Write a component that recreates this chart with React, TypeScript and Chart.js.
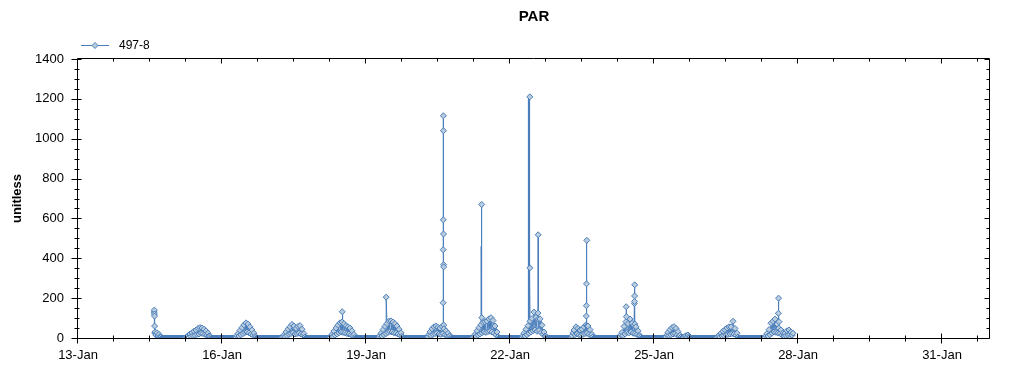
import React, { useEffect, useRef } from 'react';
import { Chart, registerables } from 'chart.js';

Chart.register(...registerables);

const chartTitle = 'PAR';
const seriesLabel = '497-8';
const yAxisTitle = 'unitless';
const monthName = 'Jan';

const xLabelDays = [13, 16, 19, 22, 25, 28, 31];
const xRange = [13, 32];
const xMinorStep = 0.75;
const yRange = [0, 1400];
const yMajorStep = 200;
const yMinorStep = 50;

// half-hourly PAR readings (00:00, 00:30, ... 23:30) for each day, starting on 14-Jan
const firstDay = 14;
const jan14 = [
  null, null, null, null, null, null, null, null, null, null, null, null, null, null, null, null,
  null, null, null, null, null, null, null, null, null, null, null, null, null,
  30, 14, 26, 10, 18, 6, 4, 0, 0, 0, 0, 0, 0, 0, 0, 0, 0, 0, 0,
];
const jan15 = [
  0, 0, 0, 0, 0, 0, 0, 0, 0, 0, 0, 0,
  3, 6, 12, 5, 20, 8, 26, 12, 34, 14, 40, 18, 48, 20, 52, 24, 50, 22, 44, 18, 36, 14, 24, 10, 8, 3,
  0, 0, 0, 0, 0, 0, 0, 0, 0, 0,
];
const jan16 = [
  0, 0, 0, 0, 0, 0, 0, 0, 0, 0, 0, 0, 0, 0,
  4, 12, 22, 10, 38, 16, 52, 22, 66, 28, 76, 30, 70, 26, 56, 20, 40, 14, 24, 8, 3,
  0, 0, 0, 0, 0, 0, 0, 0, 0, 0, 0, 0, 0,
];
const jan17 = [
  0, 0, 0, 0, 0, 0, 0, 0, 0, 0, 0, 0,
  3, 8, 16, 6, 30, 12, 44, 18, 56, 22, 68, 26, 60, 20, 48, 22, 58, 24, 62, 20, 44, 14, 22, 5,
  0, 0, 0, 0, 0, 0, 0, 0, 0, 0, 0, 0,
];
const jan18 = [
  0, 0, 0, 0, 0, 0, 0, 0, 0, 0, 0, 0,
  4, 10, 18, 8, 34, 14, 50, 20, 64, 26, 76, 30, 80, 28, 72, 26, 62, 22, 56, 20, 50, 16, 36, 12, 18, 3,
  0, 0, 0, 0, 0, 0, 0, 0, 0, 0,
];
const jan19 = [
  0, 0, 0, 0, 0, 0, 0, 0, 0, 0, 0, 0, 0,
  4, 12, 24, 10, 42, 16, 58, 22, 72, 28, 84, 32, 86, 30, 80, 26, 72, 24, 60, 20, 44, 14, 26, 8, 3,
  0, 0, 0, 0, 0, 0, 0, 0, 0, 0,
];
const jan20 = [
  0, 0, 0, 0, 0, 0, 0, 0, 0, 0, 0, 0, 0, 0,
  6, 18, 30, 12, 46, 18, 56, 22, 60, 24, 54, 20, 50, 18, 58, 22, 46, 16, 36, 12, 24, 8, 12, 4,
  0, 0, 0, 0, 0, 0, 0, 0, 0, 0,
];
const jan21 = [
  0, 0, 0, 0, 0, 0, 0, 0, 0, 0, 0,
  3, 8, 18, 8, 36, 14, 52, 20, 66, 26, 78, 30, 82, 28, 86, 32, 96, 34, 102, 30, 88, 24, 60, 16, 30, 6,
  0, 0, 0, 0, 0, 0, 0, 0, 0, 0, 0,
];
const jan22 = [
  0, 0, 0, 0, 0, 0, 0, 0, 0, 0, 0, 0,
  4, 12, 24, 10, 44, 16, 62, 24, 84, 30, 98, 36, 130, 40, 104, 34, 125, 38, 96, 28, 64, 18, 30, 10, 8, 2,
  0, 0, 0, 0, 0, 0, 0, 0, 0, 0,
];
const jan23 = [
  0, 0, 0, 0, 0, 0, 0, 0, 0, 0, 0, 0, 0, 0,
  12, 26, 40, 16, 56, 20, 48, 16, 40, 14, 44, 18, 56, 22, 66, 24, 60, 18, 42, 12, 18, 6,
  0, 0, 0, 0, 0, 0, 0, 0, 0, 0, 0, 0,
];
const jan24 = [
  0, 0, 0, 0, 0, 0, 0, 0, 0, 0, 0, 0, 0, 0,
  6, 16, 28, 12, 58, 20, 82, 28, 72, 26, 95, 30, 74, 24, 62, 22, 56, 18, 36, 12, 12, 4,
  0, 0, 0, 0, 0, 0, 0, 0, 0, 0, 0, 0,
];
const jan25 = [
  0, 0, 0, 0, 0, 0, 0, 0, 0, 0, 0, 0,
  6, 16, 28, 12, 42, 16, 52, 20, 57, 22, 48, 16, 32, 10, 14, 5,
  0, 0, 3, 8, 12, 6, 15, 8, 5, 0,
  0, 0, 0, 0, 0, 0, 0, 0, 0, 0,
];
const jan26 = [
  0, 0, 0, 0, 0, 0, 0, 0, 0, 0, 0, 0, 0, 0, 0,
  3, 8, 14, 6, 24, 10, 34, 12, 42, 16, 50, 18, 56, 20, 56, 22, 84, 20, 48, 14, 24, 5,
  0, 0, 0, 0, 0, 0, 0, 0, 0, 0, 0,
];
const jan27 = [
  0, 0, 0, 0, 0, 0, 0, 0, 0, 0, 0, 0, 0, 0, 0,
  4, 12, 22, 10, 42, 16, 74, 24, 84, 30, 95, 28, 70, 26, 82, 24, 40, 14, 26, 10, 24, 12, 36, 16, 40, 18, 30, 14, 24,
  null, null, null, null,
];

// short bursts sampled within the half hour (with markers)
const burstDays = [14, 14, 14, 14, 14, 14, 18, 19, 20, 20, 20, 20, 20, 20, 20, 20, 20, 21, 21, 22, 22, 22, 22, 23, 23, 23, 23, 23, 24, 24, 24, 24, 24, 24, 24, 27, 27, 27];
const burstHours = [14.1, 14.15, 14.2, 14.25, 14.3, 14.35, 12.1, 10.1, 14.56, 14.6, 14.64, 14.68, 14.72, 14.76, 14.8, 14.84, 14.88, 9.85, 9.9, 9.9, 9.95, 14.1, 14.2, 14.15, 14.2, 14.25, 14.4, 14.45, 10.1, 10.2, 14.2, 14.25, 14.3, 14.35, 14.4, 14.2, 14.3, 14.4];
const burstValues = [130, 140, 120, 110, 60, 25, 132, 205, 177, 443, 593, 1115, 1040, 522, 368, 357, 65, 670, 102, 1210, 352, 518, 95, 110, 162, 272, 490, 60, 157, 107, 173, 183, 211, 267, 70, 124, 200, 49];

// unmarked trace samples inside bursts
const traceDays = [20, 20, 21, 21, 21, 21, 22, 22, 22, 22, 22, 22, 22, 22, 23, 23, 23, 23];
const traceHours = [14.52, 14.54, 9.6, 9.68, 9.76, 9.8, 9.05, 9.15, 9.3, 9.4, 9.55, 9.65, 9.75, 9.85, 14.28, 14.3, 14.33, 14.36];
const traceValues = [430, 60, 460, 60, 455, 100, 1190, 30, 1200, 40, 1180, 30, 1150, 40, 330, 40, 340, 40];

const LINE = 'rgb(74,126,187)';
const FILL = 'rgb(185,204,222)';
const FONT = '"Liberation Sans", Arial, sans-serif';

type Pt = { x: number; y: number; m: boolean };

function buildPoints(): Pt[] {
  const days = [jan14, jan15, jan16, jan17, jan18, jan19, jan20, jan21, jan22, jan23, jan24, jan25, jan26, jan27];
  const pts: Pt[] = [];
  days.forEach((arr, i) => {
    arr.forEach((v, k) => {
      if (v !== null) pts.push({ x: firstDay + i + k / 48, y: v as number, m: true });
    });
  });
  burstDays.forEach((d, i) => pts.push({ x: d + burstHours[i] / 24, y: burstValues[i], m: true }));
  traceDays.forEach((d, i) => pts.push({ x: d + traceHours[i] / 24, y: traceValues[i], m: false }));
  pts.sort((a, b) => a.x - b.x);
  return pts;
}

export default function App() {
  const ref = useRef<HTMLCanvasElement>(null);
  useEffect(() => {
    const canvas = ref.current;
    if (!canvas) return;
    const points = buildPoints();

    const framePlugin = {
      id: 'frameTicks',
      afterDatasetsDraw(chart: any) {
        const { ctx, chartArea: a, scales } = chart;
        const xs = scales.x;
        const ys = scales.y;
        const L = Math.round(a.left) - 0.5;
        const R = Math.round(a.right) - 0.5;
        const T = Math.round(a.top) - 0.5;
        const B = Math.round(a.bottom) + 0.5;
        ctx.save();
        ctx.strokeStyle = '#000';
        ctx.lineWidth = 1;
        ctx.beginPath();
        ctx.rect(L, T, R - L, B - T);
        for (let k = 0; ; k++) {
          const v = xRange[0] + k * xMinorStep;
          if (v > xRange[1] + 1e-9) break;
          const major = k % 4 === 0;
          const px = Math.round(xs.getPixelForValue(v)) - 0.5;
          const inLen = major ? 5 : 3;
          const outLen = major ? 5 : 3;
          ctx.moveTo(px, B - inLen);
          ctx.lineTo(px, B + outLen);
          ctx.moveTo(px, T);
          ctx.lineTo(px, T + inLen);
        }
        for (let v = yRange[0]; v <= yRange[1] + 1e-9; v += yMinorStep) {
          const major = Math.abs(v % yMajorStep) < 1e-9;
          const py = Math.round(ys.getPixelForValue(v)) + 0.5;
          const inLen = major ? 4 : 2;
          const outLen = major ? 6 : 3;
          ctx.moveTo(L - outLen, py);
          ctx.lineTo(L + inLen, py);
          ctx.moveTo(R - (major ? 5 : 3), py);
          ctx.lineTo(R, py);
        }
        ctx.stroke();
        ctx.restore();
      },
      afterDraw(chart: any) {
        const { ctx, chartArea: a } = chart;
        const lx = a.left + 3;
        const ly = 45.5;
        ctx.save();
        ctx.strokeStyle = LINE;
        ctx.lineWidth = 1;
        ctx.beginPath();
        ctx.moveTo(lx, ly);
        ctx.lineTo(lx + 28, ly);
        ctx.stroke();
        const cx = lx + 14;
        const r = 3;
        ctx.beginPath();
        ctx.moveTo(cx - r, ly);
        ctx.lineTo(cx, ly - r);
        ctx.lineTo(cx + r, ly);
        ctx.lineTo(cx, ly + r);
        ctx.closePath();
        ctx.fillStyle = FILL;
        ctx.fill();
        ctx.stroke();
        ctx.fillStyle = '#000';
        ctx.font = '12px ' + FONT;
        ctx.textBaseline = 'middle';
        ctx.textAlign = 'left';
        ctx.fillText(seriesLabel, lx + 38, ly);
        ctx.restore();
      },
    };

    const chart = new Chart(canvas, {
      type: 'line',
      data: {
        datasets: [
          {
            label: seriesLabel,
            data: points as any,
            borderColor: LINE,
            backgroundColor: FILL,
            borderWidth: 1,
            pointStyle: 'rectRot',
            pointRadius: (c: any) => (c.raw && c.raw.m ? 3 : 0),
            pointBorderColor: LINE,
            pointBackgroundColor: FILL,
            pointBorderWidth: 1,
            pointHoverRadius: 3,
            tension: 0,
            clip: 0 as any,
          },
        ],
      },
      options: {
        animation: false,
        responsive: true,
        maintainAspectRatio: false,
        events: [],
        layout: { padding: { top: 0, left: 0, right: 34, bottom: 0 } },
        plugins: {
          legend: { display: false },
          tooltip: { enabled: false },
          title: {
            display: true,
            fullSize: false,
            text: chartTitle,
            color: '#000',
            font: { family: FONT, size: 15, weight: 'bold' },
            padding: { top: 8, bottom: 33 },
          },
        },
        scales: {
          x: {
            type: 'linear',
            min: xRange[0],
            max: xRange[1],
            grid: { display: false, drawTicks: false },
            border: { display: false },
            afterFit: (s: any) => {
              s.height = 37;
            },
            afterBuildTicks: (s: any) => {
              s.ticks = xLabelDays.map((v) => ({ value: v }));
            },
            ticks: {
              autoSkip: false,
              maxRotation: 0,
              padding: 10,
              color: '#000',
              font: { family: FONT, size: 13 },
              callback: (v: any) => `${v}-${monthName}`,
            },
          },
          y: {
            type: 'linear',
            min: yRange[0],
            max: yRange[1],
            grid: { display: false, drawTicks: false },
            border: { display: false },
            afterFit: (s: any) => {
              s.width = 78;
            },
            ticks: {
              stepSize: yMajorStep,
              padding: 14,
              color: '#000',
              font: { family: FONT, size: 13 },
              callback: (v: any) => String(v),
            },
            title: {
              display: true,
              text: yAxisTitle,
              color: '#000',
              font: { family: FONT, size: 13, weight: 'bold' },
              padding: { top: 10, bottom: 0 },
            },
          },
        },
      },
      plugins: [framePlugin],
    });
    return () => chart.destroy();
  }, []);

  return (
    <div style={{ position: 'fixed', left: 0, top: 0, width: 1024, height: 375, background: '#fff' }}>
      <canvas ref={ref} />
    </div>
  );
}
